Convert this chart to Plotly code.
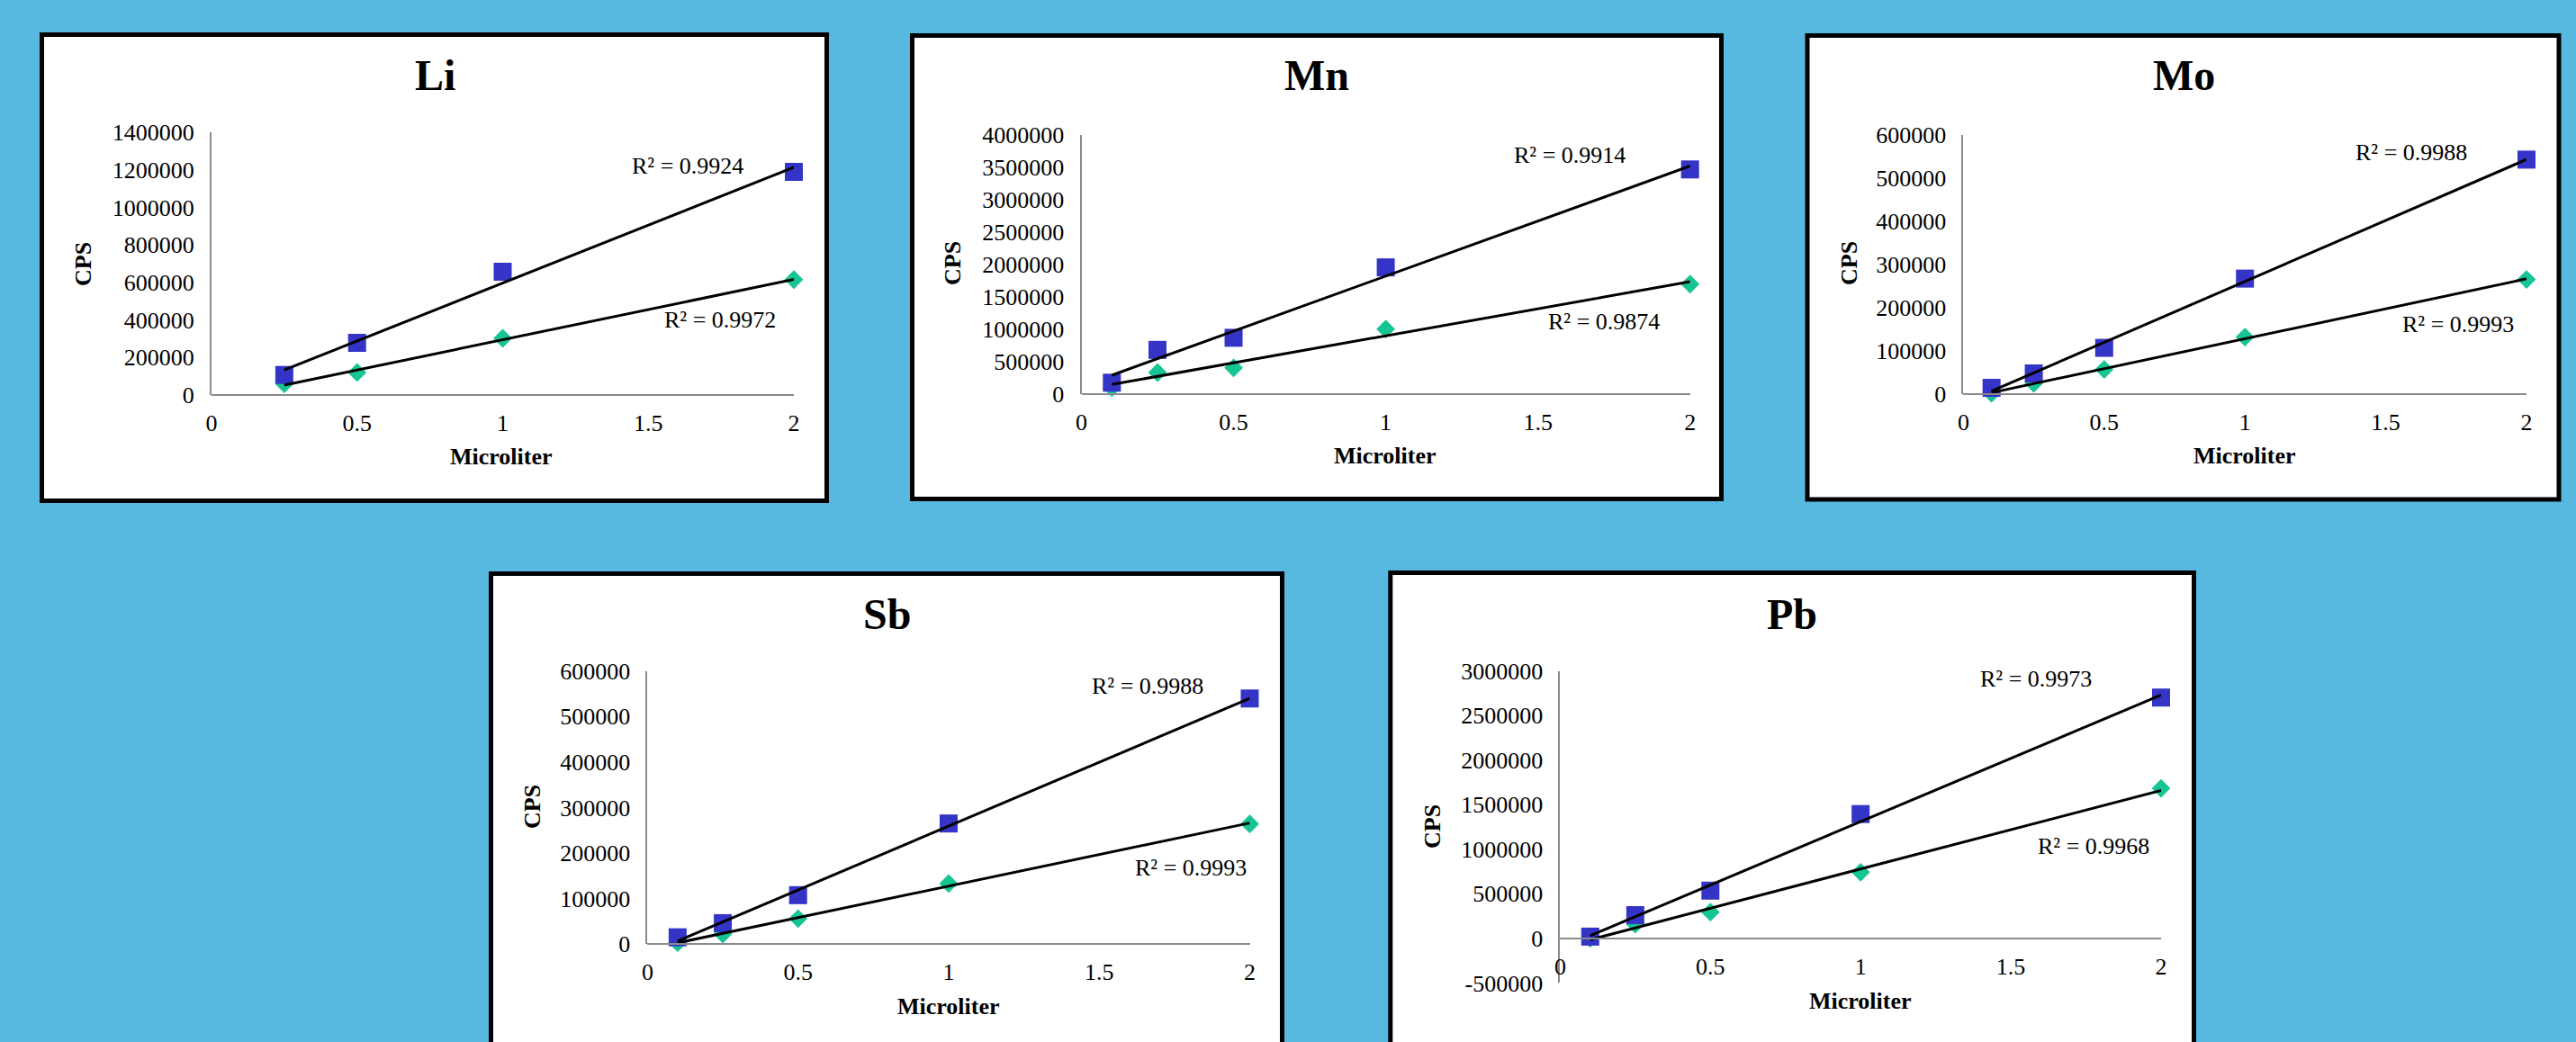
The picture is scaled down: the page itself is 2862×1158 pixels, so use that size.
import numpy as np
import plotly.graph_objects as go

W, H = 2862, 1158

# ---------------- data ----------------
elements = ["Li", "Mn", "Mo", "Sb", "Pb"]

li_x = [0.25, 0.5, 1, 2]
li_blue = [107000, 278000, 657000, 1189000]
li_green = [60000, 120000, 302000, 615000]
li_r2 = ["R² = 0.9924", "R² = 0.9972"]

mn_x = [0.1, 0.25, 0.5, 1, 2]
mn_blue = [176000, 682000, 868000, 1953000, 3462000]
mn_green = [100000, 333000, 405000, 1003000, 1695000]
mn_r2 = ["R² = 0.9914", "R² = 0.9874"]

mo_x = [0.1, 0.25, 0.5, 1, 2]
mo_blue = [14600, 47800, 107000, 267000, 542000]
mo_green = [2000, 25000, 57000, 132000, 265000]
mo_r2 = ["R² = 0.9988", "R² = 0.9993"]

sb_x = [0.1, 0.25, 0.5, 1, 2]
sb_blue = [15000, 46000, 107500, 265000, 539600]
sb_green = [3000, 22000, 56000, 133000, 264000]
sb_r2 = ["R² = 0.9988", "R² = 0.9993"]

pb_x = [0.1, 0.25, 0.5, 1, 2]
pb_blue = [20000, 261000, 536000, 1395000, 2702000]
pb_green = [0, 160000, 295000, 742000, 1684000]
pb_r2 = ["R² = 0.9973", "R² = 0.9968"]

y_ranges = [(0, 1400000, 200000), (0, 4000000, 500000), (0, 600000, 100000),
            (0, 600000, 100000), (-500000, 3000000, 500000)]
x_ticks = [0, 0.5, 1, 1.5, 2]
x_title = "Microliter"
y_title = "CPS"

series = [
    (li_x, li_blue, li_green, li_r2),
    (mn_x, mn_blue, mn_green, mn_r2),
    (mo_x, mo_blue, mo_green, mo_r2),
    (sb_x, sb_blue, sb_green, sb_r2),
    (pb_x, pb_blue, pb_green, pb_r2),
]

# ---------------- layout (pixel geometry) ----------------
plot_px = [
    (235, 882, 147, 439),
    (1201.5, 1877.7, 149.5, 438),
    (2181.4, 2807, 149.5, 438),
    (719.4, 1388.5, 745.7, 1049.2),
    (1733.4, 2401, 745.7, 1092.4),
]
box_px = [
    (46.5, 918.5, 38.5, 556.5),
    (1013.5, 1912.5, 39.5, 554.5),
    (2008, 2843, 39.5, 555),
    (545.5, 1424.5, 637.5, 1175),
    (1544.8, 2437.5, 636.5, 1175),
]
title_px = [(483, 83), (1463, 83), (2426, 83), (985, 683), (1991, 683)]
cps_px = [(93, 293), (1059, 293), (2055, 293), (591, 897), (1591, 919)]
micro_px = [(557, 508), (1539, 506), (2494, 506), (1054, 1118), (2067, 1112)]
r2_px = [
    [(764, 185), (800, 355)],
    [(1744, 172), (1782, 357)],
    [(2679, 169), (2731, 361)],
    [(1275, 762), (1323, 964)],
    [(2262, 754), (2326, 940)],
]

BG = "#58B9E0"
BLUE = "#3434C6"
GREEN = "#17C494"
AXIS = "#8A8A8A"
FONT = "Liberation Serif, Times New Roman, serif"
TXT = 26
TITLE = 48


def px_x(v):
    return v / W


def px_y(v):
    return 1 - v / H


fig = go.Figure()
shapes = []
annotations = []
layout_axes = {}

for i, (xs, yb, yg, r2) in enumerate(series):
    n = i + 1
    xa = "x" if n == 1 else f"x{n}"
    ya = "y" if n == 1 else f"y{n}"
    xs_a = np.array(xs, dtype=float)

    fig.add_trace(go.Scatter(x=xs, y=yg, mode="markers", xaxis=xa, yaxis=ya,
                             marker=dict(symbol="diamond", size=16, color=GREEN,
                                         line=dict(width=0)),
                             cliponaxis=False, showlegend=False, hoverinfo="skip"))
    fig.add_trace(go.Scatter(x=xs, y=yb, mode="markers", xaxis=xa, yaxis=ya,
                             marker=dict(symbol="square", size=20, color=BLUE,
                                         line=dict(width=0)),
                             cliponaxis=False, showlegend=False, hoverinfo="skip"))
    for ys in (yb, yg):
        k, b = np.polyfit(xs_a, np.array(ys, dtype=float), 1)
        xl = np.array([xs_a.min(), xs_a.max()])
        fig.add_trace(go.Scatter(x=xl, y=k * xl + b, mode="lines", xaxis=xa, yaxis=ya,
                                 line=dict(color="black", width=3),
                                 cliponaxis=False, showlegend=False, hoverinfo="skip"))

    xl_px, xr_px, yt_px, yb_px = plot_px[i]
    ymin, ymax, dy = y_ranges[i]
    ydom = [px_y(yb_px), px_y(yt_px)]
    xpos = ydom[0] + (0 - ymin) / (ymax - ymin) * (ydom[1] - ydom[0])
    yvals = list(range(ymin, ymax + 1, dy))

    key = "" if n == 1 else str(n)
    layout_axes["xaxis" + key] = dict(
        domain=[px_x(xl_px), px_x(xr_px)], range=[0, 2],
        tickvals=x_ticks, ticktext=[f"{t:g}" for t in x_ticks],
        showline=True, linecolor=AXIS, linewidth=2,
        showgrid=False, zeroline=False, automargin=False,
        ticks="outside", ticklen=8, tickcolor="rgba(0,0,0,0)",
        tickfont=dict(family=FONT, size=TXT, color="black"),
        anchor="free", position=xpos, fixedrange=True,
    )
    layout_axes["yaxis" + key] = dict(
        domain=ydom, range=[ymin, ymax],
        tickvals=yvals, ticktext=[str(v) for v in yvals],
        showline=True, linecolor=AXIS, linewidth=2,
        showgrid=False, zeroline=False, automargin=False,
        ticks="outside", ticklen=12, tickcolor="rgba(0,0,0,0)",
        tickfont=dict(family=FONT, size=TXT, color="black"),
        anchor=xa, fixedrange=True,
    )

    bx0, bx1, by0, by1 = box_px[i]
    shapes.append(dict(type="rect", xref="paper", yref="paper", layer="below",
                       x0=px_x(bx0), x1=px_x(bx1), y0=px_y(by1), y1=px_y(by0),
                       fillcolor="white", line=dict(color="black", width=5)))

    tx, ty = title_px[i]
    annotations.append(dict(text=f"<b>{elements[i]}</b>", x=px_x(tx), y=px_y(ty),
                            xref="paper", yref="paper", showarrow=False,
                            xanchor="center", yanchor="middle",
                            font=dict(family=FONT, size=TITLE, color="black")))
    cx, cy = cps_px[i]
    annotations.append(dict(text=f"<b>{y_title}</b>", x=px_x(cx), y=px_y(cy),
                            xref="paper", yref="paper", showarrow=False, textangle=-90,
                            xanchor="center", yanchor="middle",
                            font=dict(family=FONT, size=TXT, color="black")))
    mx, my = micro_px[i]
    annotations.append(dict(text=f"<b>{x_title}</b>", x=px_x(mx), y=px_y(my),
                            xref="paper", yref="paper", showarrow=False,
                            xanchor="center", yanchor="middle",
                            font=dict(family=FONT, size=TXT, color="black")))
    for (rx, ry), txt in zip(r2_px[i], r2):
        annotations.append(dict(text=txt, x=px_x(rx), y=px_y(ry),
                                xref="paper", yref="paper", showarrow=False,
                                xanchor="center", yanchor="middle",
                                font=dict(family=FONT, size=TXT, color="black")))

fig.update_layout(
    template="none",
    width=W, height=H, margin=dict(l=0, r=0, t=0, b=0, pad=0),
    paper_bgcolor=BG, plot_bgcolor="rgba(0,0,0,0)",
    font=dict(family=FONT, color="black"),
    shapes=shapes, annotations=annotations, showlegend=False,
    **layout_axes,
)

fig.write_html("out.html", config={"displayModeBar": False})
